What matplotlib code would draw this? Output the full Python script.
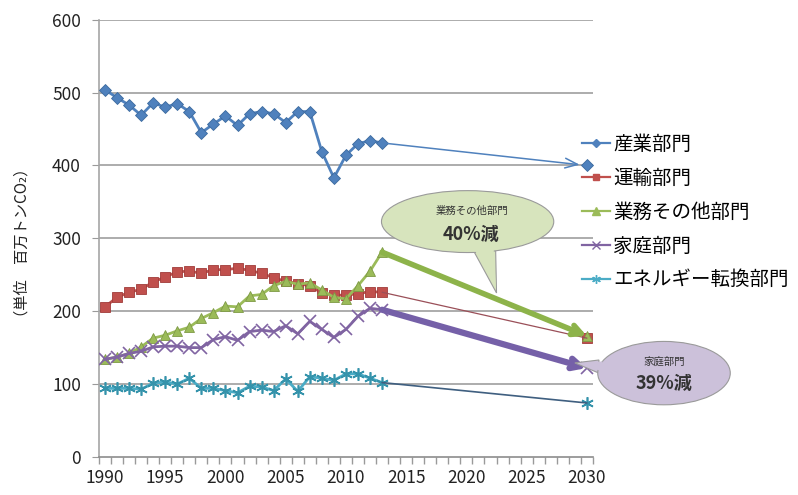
import matplotlib
matplotlib.use("Agg")
import matplotlib.pyplot as plt
from matplotlib.patches import Ellipse, Polygon
from matplotlib.lines import Line2D

plt.rcParams['font.family'] = ['Noto Sans CJK JP', 'DejaVu Sans']

years = list(range(1990, 2014))
target_year = 2030

# 実績値 (1990-2013)
sangyo = [504, 493, 483, 469, 486, 480, 485, 474, 445, 457, 468, 455,
          471, 474, 471, 459, 474, 474, 419, 383, 414, 430, 434, 431]
unyu = [206, 219, 226, 230, 240, 247, 254, 255, 252, 257, 257, 259,
        256, 252, 246, 241, 238, 235, 225, 222, 222, 224, 227, 226]
gyomu = [134, 137, 142, 151, 163, 167, 173, 178, 190, 198, 207, 206,
         221, 223, 235, 241, 237, 239, 229, 219, 217, 235, 255, 281]
katei = [134, 137, 142, 145, 151, 152, 152, 150, 150, 161, 165, 160,
         172, 174, 172, 180, 169, 186, 175, 164, 175, 193, 204, 202]
tenkan = [94, 94, 94, 93, 101, 103, 100, 108, 94, 94, 91, 88,
          97, 96, 91, 107, 90, 110, 108, 105, 114, 114, 108, 102]

# 2030年の目標値
targets = [400, 163, 166, 122, 74]

names = ['産業部門', '運輸部門', '業務その他部門', '家庭部門', 'エネルギー転換部門']
colors = ['#4F81BD', '#C0504D', '#9BBB59', '#8064A2', '#4BACC6']
edges = ['#3C6A9E', '#A03C3A', '#7E9A45', '#5E4A7E', '#3593AB']
markers = ['D', 's', '^', 'x', (6, 2, 0)]
msizes = [6, 7, 7.5, 8, 9]
series = [sangyo, unyu, gyomu, katei, tenkan]

fig = plt.figure(figsize=(7.98, 4.95), dpi=100)
ax = fig.add_axes([0.124, 0.077, 0.619, 0.883])

grid_c = '#A6A6A6'
for v in range(100, 601, 100):
    ax.axhline(v, color=grid_c, lw=1.3, zorder=0)

# 2013 -> 2030 の矢印
arrow_styles = [
    dict(color='#4F81BD', lw=1.1, arrowstyle='->,head_length=0.9,head_width=0.35', end=2029.4),
    dict(color='#9A4F58', lw=0.9, arrowstyle='-', end=2030),
    dict(color='#8DB34A', lw=4.0, arrowstyle='->,head_length=0.7,head_width=0.35', end=2030),
    dict(color='#7560A8', lw=4.5, arrowstyle='->,head_length=0.7,head_width=0.35', end=2030),
    dict(color='#3F5F80', lw=1.2, arrowstyle='-', end=2030),
]

handles = []
for vals, tgt, name, c, ec, m, ms, st in zip(series, targets, names, colors, edges,
                                              markers, msizes, arrow_styles):
    ln, = ax.plot(years, vals, color=c, lw=2.0, marker=m, markersize=ms,
                  markerfacecolor=c, markeredgecolor=ec if m not in ('x',) else c,
                  markeredgewidth=1.2 if m in ('x',) or isinstance(m, tuple) else 0.6,
                  zorder=3)
    handles.append(Line2D([], [], color=c, lw=1.6, marker=m, markersize=ms * 0.7,
                          markerfacecolor=c, markeredgecolor=c))
    ax.plot([target_year], [tgt], linestyle='none', marker=m, markersize=ms,
            markerfacecolor=c, markeredgecolor=ec if m != 'x' else c,
            markeredgewidth=1.2 if m == 'x' or isinstance(m, tuple) else 0.6, zorder=4)
    end_v = tgt + (tgt - vals[-1]) / (target_year - years[-1]) * (st['end'] - target_year)
    ax.annotate('', xy=(st['end'], end_v), xytext=(years[-1], vals[-1]),
                arrowprops=dict(arrowstyle=st['arrowstyle'], color=st['color'],
                                lw=st['lw'], shrinkA=0, shrinkB=0),
                zorder=5)

# 吹き出し (業務その他部門)
ax.add_patch(Polygon([(2019.6, 313), (2022.4, 305), (2022.5, 225)], closed=True,
                     facecolor='#D7E4BD', edgecolor='#9A9A9A', lw=0.8, zorder=6))
ax.add_patch(Ellipse((2020.1, 323), 14.3, 85, facecolor='#D7E4BD',
                     edgecolor='#9A9A9A', lw=0.8, zorder=6))
ax.add_patch(Polygon([(2019.8, 311), (2022.2, 304), (2022.45, 230)], closed=True,
                     facecolor='#D7E4BD', edgecolor='none', zorder=7))
ax.text(2020.5, 338, '業務その他部門', ha='center', va='center', fontsize=7.5,
        color='#333333', zorder=8)
ax.text(2020.4, 305, '40%減', ha='center', va='center', fontsize=13,
        fontweight='bold', color='#333333', zorder=8)

# 吹き出し (家庭部門)
ax.add_patch(Polygon([(2031.0, 133), (2031.0, 115), (2029.0, 129)], closed=True,
                     facecolor='#CCC1DA', edgecolor='#9A9A9A', lw=0.8, zorder=6,
                     clip_on=False))
ax.add_patch(Ellipse((2036.4, 115), 11.0, 87, facecolor='#CCC1DA',
                     edgecolor='#9A9A9A', lw=0.8, zorder=6, clip_on=False))
ax.add_patch(Polygon([(2031.3, 131), (2031.3, 117), (2029.3, 128.5)], closed=True,
                     facecolor='#CCC1DA', edgecolor='none', zorder=7, clip_on=False))
ax.text(2036.4, 131, '家庭部門', ha='center', va='center', fontsize=7.5,
        color='#333333', zorder=8, clip_on=False)
ax.text(2036.4, 101, '39%減', ha='center', va='center', fontsize=13,
        fontweight='bold', color='#333333', zorder=8, clip_on=False)

ax.set_xlim(1989.5, 2030.5)
ax.set_ylim(0, 600)
ax.set_yticks(range(0, 601, 100))
ax.set_xticks(range(1990, 2031, 5))
ax.set_xticks([y + 0.5 for y in range(1989, 2031)], minor=True)
ax.tick_params(axis='x', which='major', length=0, labelsize=12.5, pad=9, colors='#222222')
ax.tick_params(axis='x', which='minor', length=5, color='#9A9A9A', width=1)
ax.tick_params(axis='y', length=5, color='#9A9A9A', labelsize=12.5, pad=8, colors='#222222')
ax.tick_params(axis='y', colors='#9A9A9A', labelcolor='#222222')
for s in ['top', 'right']:
    ax.spines[s].set_visible(False)
ax.spines['left'].set_color('#A6A6A6')
ax.spines['bottom'].set_color('#8C8C8C')
ax.spines['left'].set_linewidth(1.2)
ax.spines['bottom'].set_linewidth(1.2)

fig.text(0.028, 0.51, '（単位　百万トンCO₂）', rotation=90, ha='center', va='center',
         fontsize=11, color='#222222')

fig.legend(handles, names, loc='upper left', bbox_to_anchor=(0.72, 0.745),
           frameon=False, fontsize=14, handlelength=1.4, handletextpad=0.2,
           labelspacing=0.66, borderaxespad=0)

fig.savefig('out.png', dpi=100)
